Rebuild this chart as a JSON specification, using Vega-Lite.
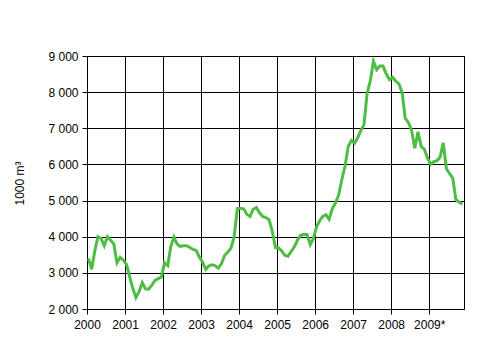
{
  "$schema": "https://vega.github.io/schema/vega-lite/v6.json",
  "autosize": "none",
  "width": 377,
  "height": 253,
  "padding": {"left": 87, "top": 56, "right": 34, "bottom": 36},
  "background": "white",
  "config": {
    "view": {"stroke": "#000000", "strokeWidth": 1},
    "font": "Liberation Sans",
    "axis": {
      "domainColor": "#000000", "tickColor": "#000000", "gridColor": "#000000",
      "gridOpacity": 1, "gridWidth": 1, "domainWidth": 1, "tickWidth": 1,
      "labelColor": "#000000", "titleColor": "#000000",
      "labelFont": "Liberation Sans", "titleFont": "Liberation Sans",
      "labelFontSize": 12, "titleFontSize": 12, "titleFontWeight": "normal",
      "tickSize": 5
    }
  },
  "data": {
    "values": [
      {"date": "2000-01-15", "value": 3400}, {"date": "2000-02-15", "value": 3100}, {"date": "2000-03-15", "value": 3600}, {"date": "2000-04-15", "value": 4000}, {"date": "2000-05-15", "value": 3950}, {"date": "2000-06-15", "value": 3750}, {"date": "2000-07-15", "value": 4000}, {"date": "2000-08-15", "value": 3900}, {"date": "2000-09-15", "value": 3800}, {"date": "2000-10-15", "value": 3280}, {"date": "2000-11-15", "value": 3430}, {"date": "2000-12-15", "value": 3350},
      {"date": "2001-01-15", "value": 3230}, {"date": "2001-02-15", "value": 2880}, {"date": "2001-03-15", "value": 2580}, {"date": "2001-04-15", "value": 2320}, {"date": "2001-05-15", "value": 2480}, {"date": "2001-06-15", "value": 2730}, {"date": "2001-07-15", "value": 2560}, {"date": "2001-08-15", "value": 2550}, {"date": "2001-09-15", "value": 2660}, {"date": "2001-10-15", "value": 2790}, {"date": "2001-11-15", "value": 2840}, {"date": "2001-12-15", "value": 2880},
      {"date": "2002-01-15", "value": 3280}, {"date": "2002-02-15", "value": 3200}, {"date": "2002-03-15", "value": 3720}, {"date": "2002-04-15", "value": 3990}, {"date": "2002-05-15", "value": 3800}, {"date": "2002-06-15", "value": 3730}, {"date": "2002-07-15", "value": 3750}, {"date": "2002-08-15", "value": 3750}, {"date": "2002-09-15", "value": 3700}, {"date": "2002-10-15", "value": 3650}, {"date": "2002-11-15", "value": 3620}, {"date": "2002-12-15", "value": 3440},
      {"date": "2003-01-15", "value": 3300}, {"date": "2003-02-15", "value": 3100}, {"date": "2003-03-15", "value": 3190}, {"date": "2003-04-15", "value": 3220}, {"date": "2003-05-15", "value": 3200}, {"date": "2003-06-15", "value": 3130}, {"date": "2003-07-15", "value": 3250}, {"date": "2003-08-15", "value": 3480}, {"date": "2003-09-15", "value": 3580}, {"date": "2003-10-15", "value": 3680}, {"date": "2003-11-15", "value": 4000}, {"date": "2003-12-15", "value": 4780},
      {"date": "2004-01-15", "value": 4780}, {"date": "2004-02-15", "value": 4770}, {"date": "2004-03-15", "value": 4620}, {"date": "2004-04-15", "value": 4560}, {"date": "2004-05-15", "value": 4760}, {"date": "2004-06-15", "value": 4810}, {"date": "2004-07-15", "value": 4660}, {"date": "2004-08-15", "value": 4560}, {"date": "2004-09-15", "value": 4530}, {"date": "2004-10-15", "value": 4470}, {"date": "2004-11-15", "value": 4150}, {"date": "2004-12-15", "value": 3700},
      {"date": "2005-01-15", "value": 3690}, {"date": "2005-02-15", "value": 3600}, {"date": "2005-03-15", "value": 3490}, {"date": "2005-04-15", "value": 3460}, {"date": "2005-05-15", "value": 3590}, {"date": "2005-06-15", "value": 3720}, {"date": "2005-07-15", "value": 3900}, {"date": "2005-08-15", "value": 4040}, {"date": "2005-09-15", "value": 4070}, {"date": "2005-10-15", "value": 4060}, {"date": "2005-11-15", "value": 3780}, {"date": "2005-12-15", "value": 3950},
      {"date": "2006-01-15", "value": 4280}, {"date": "2006-02-15", "value": 4450}, {"date": "2006-03-15", "value": 4560}, {"date": "2006-04-15", "value": 4610}, {"date": "2006-05-15", "value": 4480}, {"date": "2006-06-15", "value": 4780}, {"date": "2006-07-15", "value": 4930}, {"date": "2006-08-15", "value": 5150}, {"date": "2006-09-15", "value": 5590}, {"date": "2006-10-15", "value": 5950}, {"date": "2006-11-15", "value": 6500}, {"date": "2006-12-15", "value": 6660},
      {"date": "2007-01-15", "value": 6580}, {"date": "2007-02-15", "value": 6750}, {"date": "2007-03-15", "value": 6930}, {"date": "2007-04-15", "value": 7100}, {"date": "2007-05-15", "value": 7960}, {"date": "2007-06-15", "value": 8320}, {"date": "2007-07-15", "value": 8850}, {"date": "2007-08-15", "value": 8620}, {"date": "2007-09-15", "value": 8720}, {"date": "2007-10-15", "value": 8720}, {"date": "2007-11-15", "value": 8500}, {"date": "2007-12-15", "value": 8350},
      {"date": "2008-01-15", "value": 8410}, {"date": "2008-02-15", "value": 8300}, {"date": "2008-03-15", "value": 8230}, {"date": "2008-04-15", "value": 8000}, {"date": "2008-05-15", "value": 7280}, {"date": "2008-06-15", "value": 7160}, {"date": "2008-07-15", "value": 6950}, {"date": "2008-08-15", "value": 6450}, {"date": "2008-09-15", "value": 6900}, {"date": "2008-10-15", "value": 6500}, {"date": "2008-11-15", "value": 6420}, {"date": "2008-12-15", "value": 6180},
      {"date": "2009-01-15", "value": 6000}, {"date": "2009-02-15", "value": 6080}, {"date": "2009-03-15", "value": 6100}, {"date": "2009-04-15", "value": 6200}, {"date": "2009-05-15", "value": 6600}, {"date": "2009-06-15", "value": 5880}, {"date": "2009-07-15", "value": 5750}, {"date": "2009-08-15", "value": 5620}, {"date": "2009-09-15", "value": 5020}, {"date": "2009-10-15", "value": 4960}, {"date": "2009-11-15", "value": 4900}
    ]
  },
  "mark": {"type": "line", "color": "#4DBE44", "strokeWidth": 3, "clip": true},
  "encoding": {
    "x": {
      "field": "date", "type": "temporal",
      "scale": {"type": "utc", "domain": ["2000-01-01", "2009-12-01"]},
      "axis": {
        "title": null,
        "grid": true,
        "tickCount": {"interval": "year", "step": 1},
        "labelExpr": "utcyear(datum.value) == 2009 ? '2009*' : utcFormat(datum.value, '%Y')",
        "labelPadding": 5,
        "labelFlush": false,
        "labelOverlap": false
      }
    },
    "y": {
      "field": "value", "type": "quantitative",
      "scale": {"domain": [2000, 9000], "nice": false, "zero": false},
      "axis": {
        "title": "1000 m³",
        "values": [2000, 3000, 4000, 5000, 6000, 7000, 8000, 9000],
        "grid": true,
        "labelExpr": "replace(format(datum.value, ','), ',', ' ')",
        "labelPadding": 4,
        "titleX": -64,
        "titleY": 127,
        "titleAngle": -90,
        "titleAlign": "center",
        "titleBaseline": "alphabetic"
      }
    }
  }
}
